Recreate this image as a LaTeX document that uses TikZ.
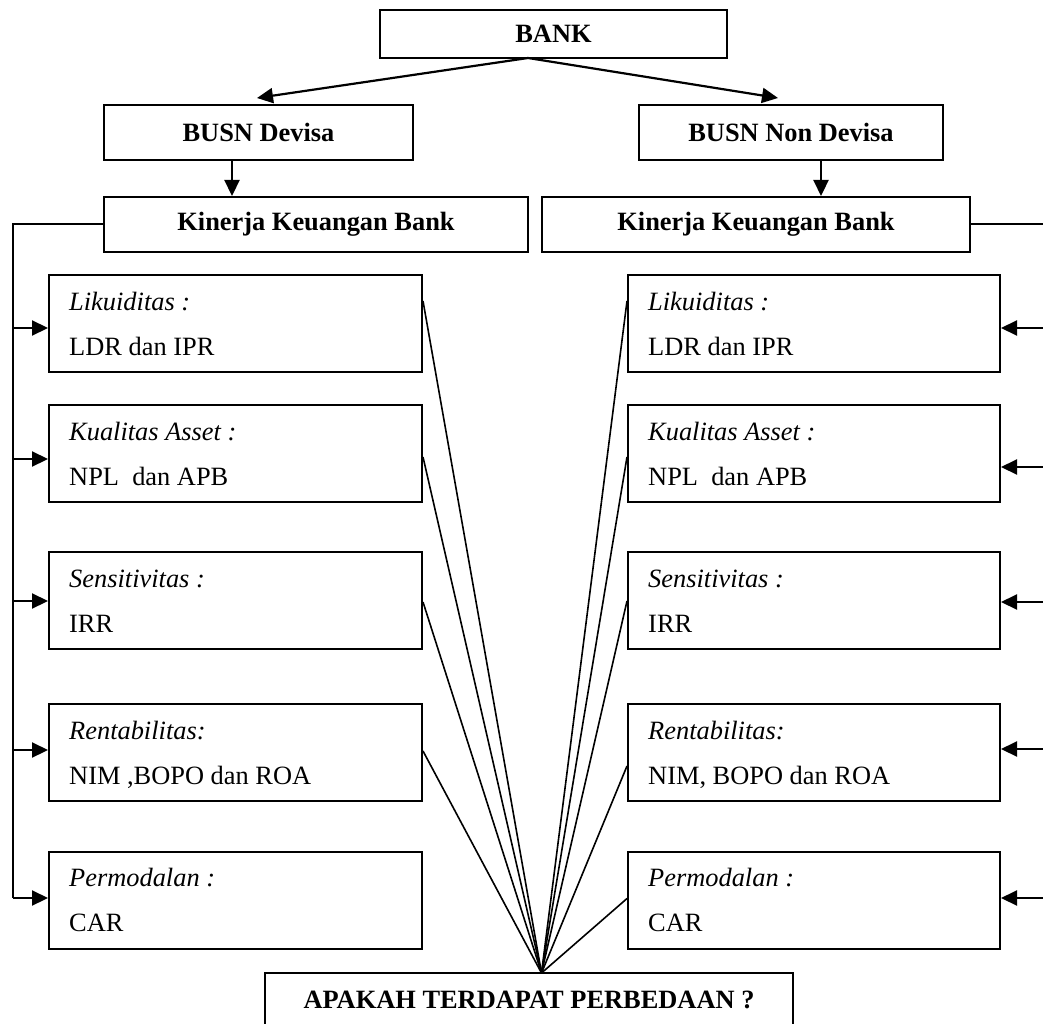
\documentclass[tikz,border=0pt]{standalone}
\usepackage{fontspec}
\setmainfont{Liberation Serif}
\usetikzlibrary{arrows.meta,calc}
\begin{document}
\begin{tikzpicture}[x=1pt,y=-1pt,
  box/.style={draw,line width=2pt,rectangle,inner sep=0pt,font=\fontsize{26.4}{32}\selectfont\bfseries},
  smallbox/.style={draw,line width=2pt,rectangle,inner sep=0pt,minimum width=373pt,minimum height=97pt},
  txt/.style={anchor=base west,inner sep=0pt,font=\fontsize{26.4}{32}\selectfont},
  arr/.style={line width=2.2pt,-{Triangle[length=16pt,width=15pt]}},
  conn/.style={line width=2pt},
  fan/.style={line width=1.6pt}]
\useasboundingbox (0,0) rectangle (1043,1024);
\clip (0,0) rectangle (1043,1024);

% top boxes
\node[box,minimum width=347pt,minimum height=48pt] (bank) at (553.5,34) {BANK};
\node[box,minimum width=309pt,minimum height=55pt] (bd) at (258.5,132.5) {BUSN Devisa};
\node[box,minimum width=304pt,minimum height=55pt] (bnd) at (791,132.5) {BUSN Non Devisa};
\node[box,minimum width=424pt,minimum height=55pt] (kl) at (316,224.5) {Kinerja Keuangan Bank};
\node[box,minimum width=428pt,minimum height=55pt] (kr) at (756,224.5) {Kinerja Keuangan Bank};
\node[box,minimum width=528pt,minimum height=53pt] (ap) at (529,999.5) {APAKAH TERDAPAT PERBEDAAN ?};

% small boxes
\foreach \n/\y in {1/323.5,2/453.5,3/600.5,4/752.5,5/900}{
  \node[smallbox] (L\n) at (235.5,\y) {};
  \node[smallbox,minimum width=372pt] (R\n) at (814,\y) {};
}
\foreach \b/\a/\c in {L1/{Likuiditas :}/{LDR dan IPR},
                      L2/{Kualitas Asset :}/{NPL\ \ dan APB},
                      L3/{Sensitivitas :}/{IRR},
                      L4/{Rentabilitas:}/{NIM ,BOPO dan ROA},
                      L5/{Permodalan :}/{CAR},
                      R1/{Likuiditas :}/{LDR dan IPR},
                      R2/{Kualitas Asset :}/{NPL\ \ dan APB},
                      R3/{Sensitivitas :}/{IRR},
                      R4/{Rentabilitas:}/{NIM, BOPO dan ROA},
                      R5/{Permodalan :}/{CAR}}{
  \node[txt] (\b a) at ($(\b.north west)+(21,36)$) {\itshape \a};
  \node[txt] (\b b) at ($(\b.north west)+(21,81)$) {\c};
}

% top connectors
\coordinate (bs) at (528,58);
\draw[arr] (bs) -- ($(bd.north)+(-1.5,-6)$);
\draw[arr] (bs) -- ($(bnd.north)+(-13,-6)$);
\coordinate (dl) at (232,0);
\coordinate (dr) at (821,0);
\draw[arr] (bd.south -| dl) -- (kl.north -| dl);
\draw[arr] (bnd.south -| dr) -- (kr.north -| dr);

% left bus
\coordinate (bx) at (13,0);
\draw[conn] (kl.west) -- (kl.west -| bx) -- ($(L5.west -| bx)+(0,-2)$);
\foreach \b/\d in {L1/4.5,L2/5.5,L3/0.5,L4/-2.5,L5/-2}
  \draw[arr] ($(\b.west -| bx)+(0,\d)$) -- ($(\b.west)+(0,\d)$);

% right bus
\coordinate (rx) at (1047,0);
\draw[conn] (kr.east) -- (kr.east -| rx) -- ($(R5.east -| rx)+(0,-2)$);
\foreach \b/\d in {R1/4.5,R2/13.5,R3/1.5,R4/-3.5,R5/-2}
  \draw[arr] ($(\b.east -| rx)+(0,\d)$) -- ($(\b.east)+(0,\d)$);

% fan to question box
\coordinate (hub) at (541.5,973);
\draw[fan] ($(L1.north east)+(0,27)$) -- (hub);
\draw[fan] ($(L2.north east)+(0,53)$) -- (hub);
\draw[fan] ($(L3.north east)+(0,51)$) -- (hub);
\draw[fan] ($(L4.north east)+(0,48)$) -- (hub);
\draw[fan] ($(R1.north west)+(0,27)$) -- (hub);
\draw[fan] ($(R2.north west)+(0,53)$) -- (hub);
\draw[fan] ($(R3.north west)+(0,50)$) -- (hub);
\draw[fan] ($(R4.north west)+(0,63)$) -- (hub);
\draw[fan] ($(R5.north west)+(0,48)$) -- (hub);
\end{tikzpicture}
\end{document}
